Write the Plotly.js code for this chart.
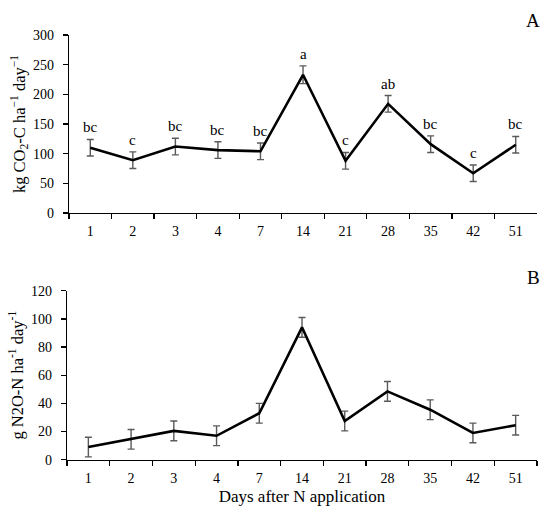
<!DOCTYPE html>
<html>
<head>
<meta charset="utf-8">
<script src="https://cdn.plot.ly/plotly-3.0.1.min.js"></script>
<style>html,body{margin:0;padding:0;background:#fff;}#chart{width:550px;height:512px;}</style>
</head>
<body>
<div id="chart"></div>
<script>
var days = ['1','2','3','4','7','14','21','28','35','42','51'];
var co2 = [110, 89, 112, 106, 104, 233, 88, 184, 116, 67, 115];
var co2Err = [14, 14, 14, 14, 14, 15, 14, 14, 14, 14, 14];
var co2Letters = ['bc','c','bc','bc','bc','a','c','ab','bc','c','bc'];
var n2o = [9, 14.5, 20.5, 17, 33, 94, 27.5, 48.5, 35.5, 19, 24.5];
var n2oErr = [7, 7, 7, 7, 7, 7, 7, 7, 7, 7, 7];

var FONT = "'Liberation Serif'";
var lineStyle = {color: '#000', width: 2.6};
var errStyle = {type: 'data', visible: true, color: '#5a5a5a', thickness: 1.4, width: 3.5};

var traces = [
  {x: days, y: co2, error_y: Object.assign({array: co2Err}, errStyle), type: 'scatter', mode: 'lines',
   line: lineStyle, xaxis: 'x', yaxis: 'y', hoverinfo: 'skip'},
  {x: days, y: n2o, error_y: Object.assign({array: n2oErr}, errStyle), type: 'scatter', mode: 'lines',
   line: lineStyle, xaxis: 'x2', yaxis: 'y2', hoverinfo: 'skip'}
];

var annotations = days.map(function (d, i) {
  return {x: i, y: co2[i] + co2Err[i], xref: 'x', yref: 'y', text: co2Letters[i], showarrow: false,
          yanchor: 'bottom', yshift: 2, font: {family: FONT, size: 15, color: '#000'}};
});
annotations.push({x: 0.985, y: 0.985, xref: 'paper', yref: 'paper', text: 'A', showarrow: false,
  xanchor: 'right', yanchor: 'top', font: {family: FONT, size: 19, color: '#000'}});
annotations.push({x: 0.985, y: 0.482, xref: 'paper', yref: 'paper', text: 'B', showarrow: false,
  xanchor: 'right', yanchor: 'top', font: {family: FONT, size: 19, color: '#000'}});

function xAxis(domain, anchor, title) {
  var ax = {domain: domain, anchor: anchor, type: 'category', range: [-0.5, 10.5],
    showline: true, linecolor: '#000', linewidth: 1.3, ticks: 'outside', tickson: 'boundaries',
    ticklen: 5, tickwidth: 1.3, tickcolor: '#000', showgrid: false, zeroline: false,
    ticklabelstandoff: 5, tickfont: {family: FONT, size: 14, color: '#000'}, fixedrange: true};
  if (title) ax.title = {text: title, standoff: 5, font: {family: FONT, size: 17, color: '#000'}};
  return ax;
}
function yAxis(domain, anchor, range, dtick, title) {
  return {domain: domain, anchor: anchor, range: range, dtick: dtick, showline: true, linecolor: '#000',
    linewidth: 1.3, ticks: 'outside', ticklen: 5, tickwidth: 1.3, tickcolor: '#000', showgrid: false,
    zeroline: false, ticklabelstandoff: 6, tickfont: {family: FONT, size: 14, color: '#000'},
    title: {text: title, standoff: 3, font: {family: FONT, size: 16.5, color: '#000'}}, fixedrange: true};
}

var layout = {
  width: 550, height: 512,
  margin: {l: 0, r: 0, t: 0, b: 0},
  paper_bgcolor: '#fff', plot_bgcolor: '#fff',
  showlegend: false,
  font: {family: FONT, color: '#000'},
  xaxis: xAxis([0.1255, 0.9764], 'y', null),
  yaxis: yAxis([0.584, 0.9316], 'x', [0, 300], 50, 'kg CO<sub>2</sub>-C ha<sup>−1</sup> day<sup>−1</sup>'),
  xaxis2: xAxis([0.1218, 0.9764], 'y2', 'Days after N application'),
  yaxis2: yAxis([0.1021, 0.4322], 'x2', [0, 120], 20, 'g N2O-N ha<sup>-1</sup> day<sup>-1</sup>'),
  annotations: annotations
};

Plotly.newPlot('chart', traces, layout, {displayModeBar: false, staticPlot: true});
</script>
</body>
</html>
